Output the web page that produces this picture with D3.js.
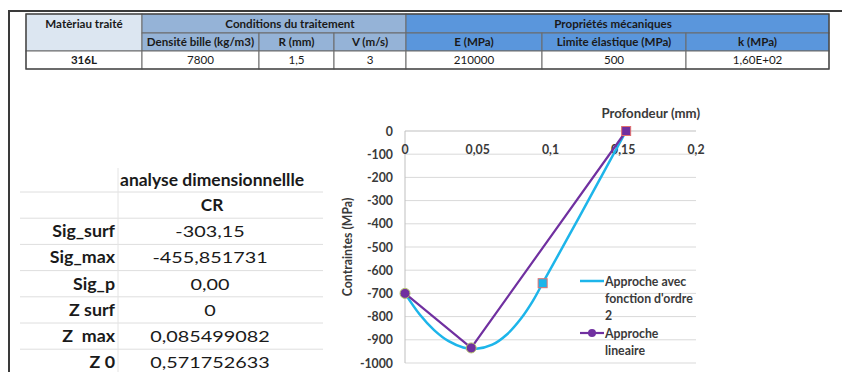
<!DOCTYPE html>
<html><head><meta charset="utf-8">
<script src="https://cdn.jsdelivr.net/npm/d3@7"></script>
<style>body{margin:0;background:#fff}svg{display:block}text{font-family:Lato,"Open Sans",sans-serif}</style>
</head><body><svg id="c" width="842" height="372"></svg>
<script>
// ---- data ----
const tableHeadGroups = ["Matèriau traité", "Conditions du traitement", "Propriétés mécaniques"];
const tableHeadCols = ["Densité bille (kg/m3)", "R (mm)", "V (m/s)", "E (MPa)", "Limite élastique (MPa)", "k (MPa)"];
const tableValues = ["316L", "7800", "1,5", "3", "210000", "500", "1,60E+02"];

const dimTitle = "analyse dimensionnellle";
const dimColHead = "CR";
const dimLabels = ["Sig_surf", "Sig_max", "Sig_p", "Z surf", "Z  max", "Z 0"];
const dimValues = ["-303,15", "-455,851731", "0,00", "0", "0,085499082", "0,571752633"];

const xTicks = [0, 0.05, 0.1, 0.15, 0.2];
const yTicks = [0, -100, -200, -300, -400, -500, -600, -700, -800, -900, -1000];
// Approche avec fonction d'ordre 2
const curveX = [0, 0.01, 0.02, 0.03, 0.04, 0.048, 0.06, 0.07, 0.08, 0.088, 0.0946, 0.12, 0.152];
const curveY = [-700, -790, -858, -906, -933, -940, -921, -877, -806, -731, -656, -368, 0];
const curveMarkerX = [0.0946, 0.152];
const curveMarkerY = [-656, 0];
// Approche lineaire
const linX = [0, 0.0455, 0.152];
const linY = [-700, -935, 0];
const legendLabels = [["Approche avec", "fonction d'ordre", "2"], ["Approche", "lineaire"]];

// ---- drawing ----
const svg = d3.select("#c");
svg.append("rect").attr("width", 842).attr("height", 372).attr("fill", "#fff");

// outer frame
svg.append("path").attr("d", "M9,372V11H842").attr("fill", "none").attr("stroke", "#3a3a3a").attr("stroke-width", 2);

// table
const colX = [26, 142, 259, 334, 406, 542, 686, 829];
const rowY = [14, 33, 51, 69];
const cLight = "#dce6f1", cMid = "#95b3d7", cDark = "#5a96dc";
const tg = svg.append("g");
function cell(x0, x1, y0, y1, fill, txt, bold, ty, tx) {
  tg.append("rect").attr("x", x0).attr("y", y0).attr("width", x1 - x0).attr("height", y1 - y0)
    .attr("fill", fill).attr("stroke", "#6b6b6b").attr("stroke-width", 1);
  tg.append("text").attr("x", tx !== undefined ? tx : (x0 + x1) / 2).attr("y", ty !== undefined ? ty : (y0 + y1) / 2 + 4)
    .attr("text-anchor", "middle").attr("font-size", 11.6).attr("font-weight", bold ? "bold" : "normal")
    .attr("fill", "#1a1a1a").text(txt);
}
cell(colX[0], colX[1], rowY[0], rowY[2], cLight, tableHeadGroups[0], true, 27.5);
cell(colX[1], colX[4], rowY[0], rowY[1], cMid, tableHeadGroups[1], true, undefined, 290);
cell(colX[4], colX[7], rowY[0], rowY[1], cDark, tableHeadGroups[2], true, undefined, 613);
tableHeadCols.forEach((t, i) => cell(colX[i + 1], colX[i + 2], rowY[1], rowY[2], i < 3 ? cMid : cDark, t, true));
tableValues.forEach((t, i) => cell(colX[i], colX[i + 1], rowY[2], rowY[3], "#fff", t, i === 0));
tg.append("rect").attr("x", colX[0]).attr("y", rowY[0]).attr("width", colX[7] - colX[0]).attr("height", rowY[3] - rowY[0])
  .attr("fill", "none").attr("stroke", "#444").attr("stroke-width", 1.3);

// dimension table
const dg = svg.append("g");
const rowH = 26.2, firstLine = 192;
const fs = 16.5;
dg.append("text").attr("transform", "translate(120,186) scale(1.06,1)").attr("font-size", fs).attr("font-weight", "bold")
  .attr("fill", "#1a1a1a").text(dimTitle);
for (let i = 0; i < 7; i++) {
  dg.append("line").attr("x1", 20).attr("x2", 323).attr("y1", firstLine + i * rowH).attr("y2", firstLine + i * rowH)
    .attr("stroke", "#dedede").attr("stroke-width", 1);
}
dg.append("line").attr("x1", 118).attr("x2", 118).attr("y1", 168).attr("y2", 372).attr("stroke", "#e4e4e4");
dg.append("text").attr("transform", `translate(212,${firstLine + 19}) scale(1.05,1)`).attr("text-anchor", "middle").attr("font-size", fs)
  .attr("font-weight", "bold").attr("fill", "#1a1a1a").text(dimColHead);
dimLabels.forEach((t, i) => {
  const y = firstLine + (i + 1) * rowH + 19;
  dg.append("text").attr("transform", `translate(115,${y}) scale(1.08,1)`).attr("text-anchor", "end").attr("font-size", fs)
    .attr("font-weight", "bold").attr("fill", "#1a1a1a").attr("xml:space", "preserve").style("white-space", "pre").text(t);
  dg.append("text").attr("transform", `translate(210,${y}) scale(1.27,1)`).attr("text-anchor", "middle").attr("font-size", 15.6)
    .attr("fill", "#1a1a1a").text(dimValues[i]);
});

// chart
const x = d3.scaleLinear().domain([0, 0.2]).range([405, 696]);
const y = d3.scaleLinear().domain([-1000, 0]).range([363, 131]);
const cg = svg.append("g");
const fmt = d => String(d).replace(".", ",");
cg.selectAll(".gy").data(yTicks).join("line").attr("x1", x(0)).attr("x2", x(0.2))
  .attr("y1", d => y(d)).attr("y2", d => y(d)).attr("stroke", d => d === 0 ? "#bfbfbf" : "#d9d9d9").attr("stroke-width", 1);
cg.append("line").attr("x1", x(0)).attr("x2", x(0)).attr("y1", y(0)).attr("y2", y(-1000)).attr("stroke", "#bfbfbf");
cg.selectAll(".ty").data(yTicks).join("text").attr("x", 393).attr("y", d => y(d) + 4.5).attr("text-anchor", "end")
  .attr("font-size", 12.3).attr("font-weight", "bold").attr("fill", "#3a3a3a").text(d => d);
cg.selectAll(".tx").data(xTicks).join("text").attr("x", d => x(d)).attr("y", 154).attr("text-anchor", "middle")
  .attr("font-size", 12.3).attr("font-weight", "bold").attr("fill", "#3a3a3a").text(fmt);
cg.append("text").attr("x", 700).attr("y", 118).attr("text-anchor", "end").attr("font-size", 13.2).attr("font-weight", "bold")
  .attr("fill", "#3a3a3a").text("Profondeur (mm)");
cg.append("text").attr("transform", "translate(352,247) rotate(-90)").attr("text-anchor", "middle").attr("font-size", 12.3)
  .attr("font-weight", "bold").attr("fill", "#3a3a3a").text("Contraintes (MPa)");

const blue = "#1db5ea", purple = "#7030a0";
const curvePts = curveX.map((v, i) => [v, curveY[i]]);
const linPts = linX.map((v, i) => [v, linY[i]]);
cg.append("path").datum(curvePts).attr("fill", "none").attr("stroke", blue).attr("stroke-width", 2.5)
  .attr("d", d3.line().x(d => x(d[0])).y(d => y(d[1])).curve(d3.curveCatmullRom));
cg.append("path").datum(linPts).attr("fill", "none").attr("stroke", purple).attr("stroke-width", 2.2)
  .attr("d", d3.line().x(d => x(d[0])).y(d => y(d[1])));
curveMarkerX.forEach((v, i) => {
  cg.append("rect").attr("x", x(v) - 4.5).attr("y", y(curveMarkerY[i]) - 4.5).attr("width", 9).attr("height", 9)
    .attr("fill", i === curveMarkerX.length - 1 ? purple : blue).attr("stroke", "#e07070").attr("stroke-width", 1);
});
linPts.slice(0, 2).forEach(d => {
  cg.append("circle").attr("cx", x(d[0])).attr("cy", y(d[1])).attr("r", 5).attr("fill", purple)
    .attr("stroke", "#b5c46a").attr("stroke-width", 1);
});

// legend
const lg = cg.append("g");
lg.append("line").attr("x1", 580).attr("x2", 604).attr("y1", 281).attr("y2", 281).attr("stroke", blue).attr("stroke-width", 2.5);
lg.append("line").attr("x1", 580).attr("x2", 604).attr("y1", 333).attr("y2", 333).attr("stroke", purple).attr("stroke-width", 2.2);
lg.append("circle").attr("cx", 592).attr("cy", 333).attr("r", 4).attr("fill", purple);
legendLabels[0].forEach((t, i) => lg.append("text").attr("x", 605).attr("y", 285.5 + i * 17).attr("font-size", 12.3)
  .attr("font-weight", "bold").attr("fill", "#3a3a3a").text(t));
legendLabels[1].forEach((t, i) => lg.append("text").attr("x", 605).attr("y", 337.5 + i * 17).attr("font-size", 12.3)
  .attr("font-weight", "bold").attr("fill", "#3a3a3a").text(t));
</script></body></html>
